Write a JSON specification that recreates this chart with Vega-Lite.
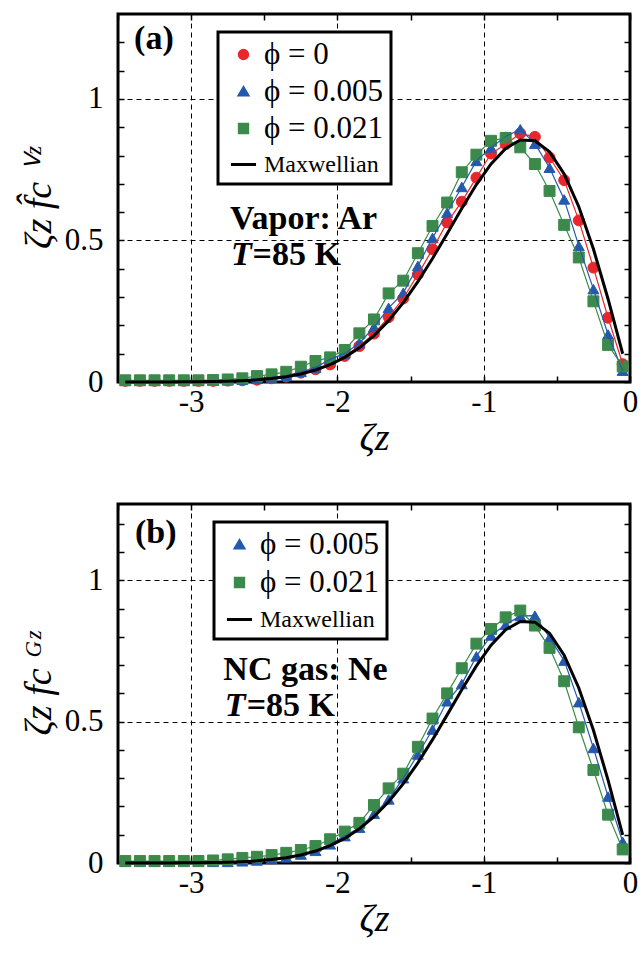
{
"$schema": "https://vega.github.io/schema/vega-lite/v6.json",
"padding": {"left": 18, "top": 11, "right": 0, "bottom": 0},
"datasets": {
"a": [
{"series":"ϕ = 0","x":-3.45,"y":0.004},{"series":"ϕ = 0","x":-3.35,"y":0.004},{"series":"ϕ = 0","x":-3.25,"y":0.004},{"series":"ϕ = 0","x":-3.15,"y":0.004},{"series":"ϕ = 0","x":-3.05,"y":0.004},{"series":"ϕ = 0","x":-2.95,"y":0.004},{"series":"ϕ = 0","x":-2.85,"y":0.004},{"series":"ϕ = 0","x":-2.75,"y":0.005},{"series":"ϕ = 0","x":-2.65,"y":0.006},{"series":"ϕ = 0","x":-2.55,"y":0.008},{"series":"ϕ = 0","x":-2.45,"y":0.013},{"series":"ϕ = 0","x":-2.35,"y":0.019},{"series":"ϕ = 0","x":-2.25,"y":0.033},{"series":"ϕ = 0","x":-2.15,"y":0.045},{"series":"ϕ = 0","x":-2.05,"y":0.062},{"series":"ϕ = 0","x":-1.95,"y":0.092},{"series":"ϕ = 0","x":-1.85,"y":0.127},{"series":"ϕ = 0","x":-1.75,"y":0.171},{"series":"ϕ = 0","x":-1.65,"y":0.229},{"series":"ϕ = 0","x":-1.55,"y":0.295},{"series":"ϕ = 0","x":-1.45,"y":0.38},{"series":"ϕ = 0","x":-1.35,"y":0.469},{"series":"ϕ = 0","x":-1.25,"y":0.564},{"series":"ϕ = 0","x":-1.15,"y":0.637},{"series":"ϕ = 0","x":-1.05,"y":0.722},{"series":"ϕ = 0","x":-0.95,"y":0.807},{"series":"ϕ = 0","x":-0.85,"y":0.84},{"series":"ϕ = 0","x":-0.75,"y":0.878},{"series":"ϕ = 0","x":-0.65,"y":0.866},{"series":"ϕ = 0","x":-0.55,"y":0.793},{"series":"ϕ = 0","x":-0.45,"y":0.713},{"series":"ϕ = 0","x":-0.35,"y":0.571},{"series":"ϕ = 0","x":-0.25,"y":0.404},{"series":"ϕ = 0","x":-0.15,"y":0.227},{"series":"ϕ = 0","x":-0.05,"y":0.063},
{"series":"ϕ = 0.005","x":-3.45,"y":0.005},{"series":"ϕ = 0.005","x":-3.35,"y":0.005},{"series":"ϕ = 0.005","x":-3.25,"y":0.005},{"series":"ϕ = 0.005","x":-3.15,"y":0.005},{"series":"ϕ = 0.005","x":-3.05,"y":0.005},{"series":"ϕ = 0.005","x":-2.95,"y":0.005},{"series":"ϕ = 0.005","x":-2.85,"y":0.005},{"series":"ϕ = 0.005","x":-2.75,"y":0.006},{"series":"ϕ = 0.005","x":-2.65,"y":0.008},{"series":"ϕ = 0.005","x":-2.55,"y":0.011},{"series":"ϕ = 0.005","x":-2.45,"y":0.016},{"series":"ϕ = 0.005","x":-2.35,"y":0.022},{"series":"ϕ = 0.005","x":-2.25,"y":0.036},{"series":"ϕ = 0.005","x":-2.15,"y":0.051},{"series":"ϕ = 0.005","x":-2.05,"y":0.08},{"series":"ϕ = 0.005","x":-1.95,"y":0.101},{"series":"ϕ = 0.005","x":-1.85,"y":0.137},{"series":"ϕ = 0.005","x":-1.75,"y":0.194},{"series":"ϕ = 0.005","x":-1.65,"y":0.262},{"series":"ϕ = 0.005","x":-1.55,"y":0.315},{"series":"ϕ = 0.005","x":-1.45,"y":0.41},{"series":"ϕ = 0.005","x":-1.35,"y":0.509},{"series":"ϕ = 0.005","x":-1.25,"y":0.598},{"series":"ϕ = 0.005","x":-1.15,"y":0.689},{"series":"ϕ = 0.005","x":-1.05,"y":0.781},{"series":"ϕ = 0.005","x":-0.95,"y":0.828},{"series":"ϕ = 0.005","x":-0.85,"y":0.867},{"series":"ϕ = 0.005","x":-0.75,"y":0.893},{"series":"ϕ = 0.005","x":-0.65,"y":0.842},{"series":"ϕ = 0.005","x":-0.55,"y":0.757},{"series":"ϕ = 0.005","x":-0.45,"y":0.645},{"series":"ϕ = 0.005","x":-0.35,"y":0.481},{"series":"ϕ = 0.005","x":-0.25,"y":0.328},{"series":"ϕ = 0.005","x":-0.15,"y":0.168},{"series":"ϕ = 0.005","x":-0.05,"y":0.04},
{"series":"ϕ = 0.021","x":-3.45,"y":0.006},{"series":"ϕ = 0.021","x":-3.35,"y":0.006},{"series":"ϕ = 0.021","x":-3.25,"y":0.006},{"series":"ϕ = 0.021","x":-3.15,"y":0.006},{"series":"ϕ = 0.021","x":-3.05,"y":0.006},{"series":"ϕ = 0.021","x":-2.95,"y":0.006},{"series":"ϕ = 0.021","x":-2.85,"y":0.007},{"series":"ϕ = 0.021","x":-2.75,"y":0.009},{"series":"ϕ = 0.021","x":-2.65,"y":0.013},{"series":"ϕ = 0.021","x":-2.55,"y":0.021},{"series":"ϕ = 0.021","x":-2.45,"y":0.027},{"series":"ϕ = 0.021","x":-2.35,"y":0.036},{"series":"ϕ = 0.021","x":-2.25,"y":0.054},{"series":"ϕ = 0.021","x":-2.15,"y":0.074},{"series":"ϕ = 0.021","x":-2.05,"y":0.087},{"series":"ϕ = 0.021","x":-1.95,"y":0.113},{"series":"ϕ = 0.021","x":-1.85,"y":0.172},{"series":"ϕ = 0.021","x":-1.75,"y":0.221},{"series":"ϕ = 0.021","x":-1.65,"y":0.313},{"series":"ϕ = 0.021","x":-1.55,"y":0.358},{"series":"ϕ = 0.021","x":-1.45,"y":0.455},{"series":"ϕ = 0.021","x":-1.35,"y":0.551},{"series":"ϕ = 0.021","x":-1.25,"y":0.634},{"series":"ϕ = 0.021","x":-1.15,"y":0.741},{"series":"ϕ = 0.021","x":-1.05,"y":0.803},{"series":"ϕ = 0.021","x":-0.95,"y":0.852},{"series":"ϕ = 0.021","x":-0.85,"y":0.862},{"series":"ϕ = 0.021","x":-0.75,"y":0.829},{"series":"ϕ = 0.021","x":-0.65,"y":0.77},{"series":"ϕ = 0.021","x":-0.55,"y":0.675},{"series":"ϕ = 0.021","x":-0.45,"y":0.555},{"series":"ϕ = 0.021","x":-0.35,"y":0.44},{"series":"ϕ = 0.021","x":-0.25,"y":0.285},{"series":"ϕ = 0.021","x":-0.15,"y":0.131},{"series":"ϕ = 0.021","x":-0.05,"y":0.055},
{"series":"Maxwellian","x":-3.45,"y":0},{"series":"Maxwellian","x":-3.35,"y":0.0001},{"series":"Maxwellian","x":-3.25,"y":0.0002},{"series":"Maxwellian","x":-3.15,"y":0.0003},{"series":"Maxwellian","x":-3.05,"y":0.0006},{"series":"Maxwellian","x":-2.95,"y":0.001},{"series":"Maxwellian","x":-2.85,"y":0.0017},{"series":"Maxwellian","x":-2.75,"y":0.0028},{"series":"Maxwellian","x":-2.65,"y":0.0047},{"series":"Maxwellian","x":-2.55,"y":0.0076},{"series":"Maxwellian","x":-2.45,"y":0.0121},{"series":"Maxwellian","x":-2.35,"y":0.0188},{"series":"Maxwellian","x":-2.25,"y":0.0285},{"series":"Maxwellian","x":-2.15,"y":0.0423},{"series":"Maxwellian","x":-2.05,"y":0.0613},{"series":"Maxwellian","x":-1.95,"y":0.087},{"series":"Maxwellian","x":-1.85,"y":0.1207},{"series":"Maxwellian","x":-1.75,"y":0.1637},{"series":"Maxwellian","x":-1.65,"y":0.2168},{"series":"Maxwellian","x":-1.55,"y":0.2805},{"series":"Maxwellian","x":-1.45,"y":0.3542},{"series":"Maxwellian","x":-1.35,"y":0.4364},{"series":"Maxwellian","x":-1.25,"y":0.524},{"series":"Maxwellian","x":-1.15,"y":0.613},{"series":"Maxwellian","x":-1.05,"y":0.6974},{"series":"Maxwellian","x":-0.95,"y":0.7706},{"series":"Maxwellian","x":-0.85,"y":0.8253},{"series":"Maxwellian","x":-0.75,"y":0.8547},{"series":"Maxwellian","x":-0.65,"y":0.852},{"series":"Maxwellian","x":-0.55,"y":0.8129},{"series":"Maxwellian","x":-0.45,"y":0.735},{"series":"Maxwellian","x":-0.35,"y":0.6193},{"series":"Maxwellian","x":-0.25,"y":0.4697},{"series":"Maxwellian","x":-0.15,"y":0.2933},{"series":"Maxwellian","x":-0.05,"y":0.0998}
],
"b": [
{"series":"ϕ = 0.005","x":-3.45,"y":0.004},{"series":"ϕ = 0.005","x":-3.35,"y":0.004},{"series":"ϕ = 0.005","x":-3.25,"y":0.004},{"series":"ϕ = 0.005","x":-3.15,"y":0.004},{"series":"ϕ = 0.005","x":-3.05,"y":0.004},{"series":"ϕ = 0.005","x":-2.95,"y":0.004},{"series":"ϕ = 0.005","x":-2.85,"y":0.004},{"series":"ϕ = 0.005","x":-2.75,"y":0.004},{"series":"ϕ = 0.005","x":-2.65,"y":0.006},{"series":"ϕ = 0.005","x":-2.55,"y":0.009},{"series":"ϕ = 0.005","x":-2.45,"y":0.014},{"series":"ϕ = 0.005","x":-2.35,"y":0.02},{"series":"ϕ = 0.005","x":-2.25,"y":0.03},{"series":"ϕ = 0.005","x":-2.15,"y":0.043},{"series":"ϕ = 0.005","x":-2.05,"y":0.066},{"series":"ϕ = 0.005","x":-1.95,"y":0.095},{"series":"ϕ = 0.005","x":-1.85,"y":0.125},{"series":"ϕ = 0.005","x":-1.75,"y":0.174},{"series":"ϕ = 0.005","x":-1.65,"y":0.225},{"series":"ϕ = 0.005","x":-1.55,"y":0.3},{"series":"ϕ = 0.005","x":-1.45,"y":0.384},{"series":"ϕ = 0.005","x":-1.35,"y":0.472},{"series":"ϕ = 0.005","x":-1.25,"y":0.572},{"series":"ϕ = 0.005","x":-1.15,"y":0.633},{"series":"ϕ = 0.005","x":-1.05,"y":0.731},{"series":"ϕ = 0.005","x":-0.95,"y":0.805},{"series":"ϕ = 0.005","x":-0.85,"y":0.843},{"series":"ϕ = 0.005","x":-0.75,"y":0.874},{"series":"ϕ = 0.005","x":-0.65,"y":0.875},{"series":"ϕ = 0.005","x":-0.55,"y":0.797},{"series":"ϕ = 0.005","x":-0.45,"y":0.716},{"series":"ϕ = 0.005","x":-0.35,"y":0.569},{"series":"ϕ = 0.005","x":-0.25,"y":0.407},{"series":"ϕ = 0.005","x":-0.15,"y":0.235},{"series":"ϕ = 0.005","x":-0.05,"y":0.075},
{"series":"ϕ = 0.021","x":-3.45,"y":0.007},{"series":"ϕ = 0.021","x":-3.35,"y":0.007},{"series":"ϕ = 0.021","x":-3.25,"y":0.007},{"series":"ϕ = 0.021","x":-3.15,"y":0.007},{"series":"ϕ = 0.021","x":-3.05,"y":0.007},{"series":"ϕ = 0.021","x":-2.95,"y":0.007},{"series":"ϕ = 0.021","x":-2.85,"y":0.009},{"series":"ϕ = 0.021","x":-2.75,"y":0.013},{"series":"ϕ = 0.021","x":-2.65,"y":0.018},{"series":"ϕ = 0.021","x":-2.55,"y":0.022},{"series":"ϕ = 0.021","x":-2.45,"y":0.028},{"series":"ϕ = 0.021","x":-2.35,"y":0.036},{"series":"ϕ = 0.021","x":-2.25,"y":0.046},{"series":"ϕ = 0.021","x":-2.15,"y":0.06},{"series":"ϕ = 0.021","x":-2.05,"y":0.084},{"series":"ϕ = 0.021","x":-1.95,"y":0.111},{"series":"ϕ = 0.021","x":-1.85,"y":0.142},{"series":"ϕ = 0.021","x":-1.75,"y":0.205},{"series":"ϕ = 0.021","x":-1.65,"y":0.264},{"series":"ϕ = 0.021","x":-1.55,"y":0.316},{"series":"ϕ = 0.021","x":-1.45,"y":0.411},{"series":"ϕ = 0.021","x":-1.35,"y":0.511},{"series":"ϕ = 0.021","x":-1.25,"y":0.6},{"series":"ϕ = 0.021","x":-1.15,"y":0.689},{"series":"ϕ = 0.021","x":-1.05,"y":0.776},{"series":"ϕ = 0.021","x":-0.95,"y":0.828},{"series":"ϕ = 0.021","x":-0.85,"y":0.869},{"series":"ϕ = 0.021","x":-0.75,"y":0.893},{"series":"ϕ = 0.021","x":-0.65,"y":0.84},{"series":"ϕ = 0.021","x":-0.55,"y":0.761},{"series":"ϕ = 0.021","x":-0.45,"y":0.643},{"series":"ϕ = 0.021","x":-0.35,"y":0.48},{"series":"ϕ = 0.021","x":-0.25,"y":0.329},{"series":"ϕ = 0.021","x":-0.15,"y":0.171},{"series":"ϕ = 0.021","x":-0.05,"y":0.048},
{"series":"Maxwellian","x":-3.45,"y":0},{"series":"Maxwellian","x":-3.35,"y":0.0001},{"series":"Maxwellian","x":-3.25,"y":0.0002},{"series":"Maxwellian","x":-3.15,"y":0.0003},{"series":"Maxwellian","x":-3.05,"y":0.0006},{"series":"Maxwellian","x":-2.95,"y":0.001},{"series":"Maxwellian","x":-2.85,"y":0.0017},{"series":"Maxwellian","x":-2.75,"y":0.0028},{"series":"Maxwellian","x":-2.65,"y":0.0047},{"series":"Maxwellian","x":-2.55,"y":0.0076},{"series":"Maxwellian","x":-2.45,"y":0.0121},{"series":"Maxwellian","x":-2.35,"y":0.0188},{"series":"Maxwellian","x":-2.25,"y":0.0285},{"series":"Maxwellian","x":-2.15,"y":0.0423},{"series":"Maxwellian","x":-2.05,"y":0.0613},{"series":"Maxwellian","x":-1.95,"y":0.087},{"series":"Maxwellian","x":-1.85,"y":0.1207},{"series":"Maxwellian","x":-1.75,"y":0.1637},{"series":"Maxwellian","x":-1.65,"y":0.2168},{"series":"Maxwellian","x":-1.55,"y":0.2805},{"series":"Maxwellian","x":-1.45,"y":0.3542},{"series":"Maxwellian","x":-1.35,"y":0.4364},{"series":"Maxwellian","x":-1.25,"y":0.524},{"series":"Maxwellian","x":-1.15,"y":0.613},{"series":"Maxwellian","x":-1.05,"y":0.6974},{"series":"Maxwellian","x":-0.95,"y":0.7706},{"series":"Maxwellian","x":-0.85,"y":0.8253},{"series":"Maxwellian","x":-0.75,"y":0.8547},{"series":"Maxwellian","x":-0.65,"y":0.852},{"series":"Maxwellian","x":-0.55,"y":0.8129},{"series":"Maxwellian","x":-0.45,"y":0.735},{"series":"Maxwellian","x":-0.35,"y":0.6193},{"series":"Maxwellian","x":-0.25,"y":0.4697},{"series":"Maxwellian","x":-0.15,"y":0.2933},{"series":"Maxwellian","x":-0.05,"y":0.0998}
]
},
"spacing": 122,
"bounds": "flush",
"resolve": {"scale": {"x": "independent", "y": "independent", "color": "independent", "shape": "independent", "stroke": "independent"}, "legend": {"color": "independent", "shape": "independent", "stroke": "independent"}},
"vconcat": [
{
"width": 512, "height": 368,
"data": {"name": "a"},
"resolve": {"axis": {"x": "independent", "y": "independent"}},
"layer": [
{"transform": [{"filter": "datum.series != 'Maxwellian'"}],
 "mark": {"type": "point", "filled": true, "size": 120, "opacity": 1, "strokeWidth": 1},
 "encoding": {
  "x": {"field": "x", "type": "quantitative", "scale": {"domain": [-3.5, 0], "nice": false, "zero": false},
        "axis": {"orient": "bottom", "values": [-3.5,-3,-2.5,-2,-1.5,-1,-0.5,0], "labelExpr": "datum.value == -3 ? '-3' : datum.value == -2 ? '-2' : datum.value == -1 ? '-1' : datum.value == 0 ? '0' : ''", "grid": true, "gridOpacity": {"condition": {"test": "datum.value == -3 || datum.value == -2 || datum.value == -1", "value": 1}, "value": 0}, "tickSize": -6, "labelPadding": 11, "title": "ζz", "titlePadding": 2}},
  "y": {"field": "y", "type": "quantitative", "scale": {"domain": [0, 1.3], "nice": false},
        "axis": {"orient": "left", "values": [0,0.1,0.2,0.3,0.4,0.5,0.6,0.7,0.8,0.9,1,1.1,1.2], "labelExpr": "datum.value == 0 ? '0' : datum.value == 0.5 ? '0.5' : datum.value == 1 ? '1' : ''", "grid": true, "gridOpacity": {"condition": {"test": "datum.value == 0.5 || datum.value == 1", "value": 1}, "value": 0}, "tickSize": -6, "labelPadding": 21, "title": "ζz f̂c ⱽᶻ", "titlePadding": 6}},
  "color": {"field": "series", "type": "nominal", "scale": {"domain": ["ϕ = 0", "ϕ = 0.005", "ϕ = 0.021", "Maxwellian"], "range": ["#e8272c", "#2459ad", "#3b8a4c", "#000000"]}, "legend": {"orient": "none", "legendX": 100, "legendY": 18, "title": null, "padding": 7, "labelFontSize": {"expr": "datum.label == 'Maxwellian' ? 24 : 31"}, "symbolSize": 70, "symbolStrokeWidth": 3, "symbolOffset": 3, "labelOffset": 5, "rowPadding": 5}},
  "stroke": {"field": "series", "type": "nominal", "scale": {"domain": ["ϕ = 0", "ϕ = 0.005", "ϕ = 0.021", "Maxwellian"], "range": ["#e8272c", "#2459ad", "#3b8a4c", "#000000"]}},
  "shape": {"field": "series", "type": "nominal", "scale": {"domain": ["ϕ = 0", "ϕ = 0.005", "ϕ = 0.021", "Maxwellian"], "range": ["circle", "triangle-up", "square", "M-3,0L3,0"]}}
 }},
{"transform": [{"filter": "datum.series != 'Maxwellian'"}],
 "mark": {"type": "line", "strokeWidth": 1.2},
 "encoding": {
  "x": {"field": "x", "type": "quantitative", "axis": {"orient": "top", "values": [-3.5,-3,-2.5,-2,-1.5,-1,-0.5,0], "labels": false, "grid": false, "tickSize": -6, "title": null}},
  "y": {"field": "y", "type": "quantitative", "axis": {"orient": "right", "values": [0,0.1,0.2,0.3,0.4,0.5,0.6,0.7,0.8,0.9,1,1.1,1.2], "labels": false, "grid": false, "tickSize": -6, "title": null}},
  "stroke": {"field": "series", "type": "nominal"}
 }},
{"transform": [{"filter": "datum.series == 'Maxwellian'"}],
 "mark": {"type": "line", "strokeWidth": 3},
 "encoding": {
  "x": {"field": "x", "type": "quantitative", "axis": null},
  "y": {"field": "y", "type": "quantitative", "axis": null},
  "stroke": {"field": "series", "type": "nominal"}
 }},
{"data": {"values": [{"label": "(a)", "x": -3.39, "y": 1.177}, {"label": "Vapor: Ar", "x": -2.734, "y": 0.54}, {"label": "=85 K", "x": -2.58, "y": 0.413}]},
 "mark": {"type": "text", "font": "Liberation Serif", "fontWeight": "bold", "fontSize": 34, "align": "left", "baseline": "alphabetic", "color": "black"},
 "encoding": {"x": {"field": "x", "type": "quantitative", "axis": null}, "y": {"field": "y", "type": "quantitative", "axis": null}, "text": {"field": "label"}}},
{"data": {"values": [{"label": "T", "x": -2.727, "y": 0.413}]},
 "mark": {"type": "text", "font": "Liberation Serif", "fontWeight": "bold", "fontStyle": "italic", "fontSize": 34, "align": "left", "baseline": "alphabetic", "color": "black"},
 "encoding": {"x": {"field": "x", "type": "quantitative", "axis": null}, "y": {"field": "y", "type": "quantitative", "axis": null}, "text": {"field": "label"}}}
]
},
{
"width": 512, "height": 359,
"data": {"name": "b"},
"resolve": {"axis": {"x": "independent", "y": "independent"}},
"layer": [
{"transform": [{"filter": "datum.series != 'Maxwellian'"}],
 "mark": {"type": "point", "filled": true, "size": 120, "opacity": 1, "strokeWidth": 1},
 "encoding": {
  "x": {"field": "x", "type": "quantitative", "scale": {"domain": [-3.5, 0], "nice": false, "zero": false},
        "axis": {"orient": "bottom", "values": [-3.5,-3,-2.5,-2,-1.5,-1,-0.5,0], "labelExpr": "datum.value == -3 ? '-3' : datum.value == -2 ? '-2' : datum.value == -1 ? '-1' : datum.value == 0 ? '0' : ''", "grid": true, "gridOpacity": {"condition": {"test": "datum.value == -3 || datum.value == -2 || datum.value == -1", "value": 1}, "value": 0}, "tickSize": -6, "labelPadding": 11, "title": "ζz", "titlePadding": 2}},
  "y": {"field": "y", "type": "quantitative", "scale": {"domain": [0, 1.27], "nice": false},
        "axis": {"orient": "left", "values": [0,0.1,0.2,0.3,0.4,0.5,0.6,0.7,0.8,0.9,1,1.1,1.2], "labelExpr": "datum.value == 0 ? '0' : datum.value == 0.5 ? '0.5' : datum.value == 1 ? '1' : ''", "grid": true, "gridOpacity": {"condition": {"test": "datum.value == 0.5 || datum.value == 1", "value": 1}, "value": 0}, "tickSize": -6, "labelPadding": 21, "title": "ζz fc ᴳᶻ", "titlePadding": 6}},
  "color": {"field": "series", "type": "nominal", "scale": {"domain": ["ϕ = 0.005", "ϕ = 0.021", "Maxwellian"], "range": ["#2459ad", "#3b8a4c", "#000000"]}, "legend": {"orient": "none", "legendX": 96, "legendY": 18, "title": null, "padding": 7, "labelFontSize": {"expr": "datum.label == 'Maxwellian' ? 24 : 31"}, "symbolSize": 70, "symbolStrokeWidth": 3, "symbolOffset": 3, "labelOffset": 5, "rowPadding": 6}},
  "stroke": {"field": "series", "type": "nominal", "scale": {"domain": ["ϕ = 0.005", "ϕ = 0.021", "Maxwellian"], "range": ["#2459ad", "#3b8a4c", "#000000"]}},
  "shape": {"field": "series", "type": "nominal", "scale": {"domain": ["ϕ = 0.005", "ϕ = 0.021", "Maxwellian"], "range": ["triangle-up", "square", "M-3,0L3,0"]}}
 }},
{"transform": [{"filter": "datum.series != 'Maxwellian'"}],
 "mark": {"type": "line", "strokeWidth": 1.2},
 "encoding": {
  "x": {"field": "x", "type": "quantitative", "axis": {"orient": "top", "values": [-3.5,-3,-2.5,-2,-1.5,-1,-0.5,0], "labels": false, "grid": false, "tickSize": -6, "title": null}},
  "y": {"field": "y", "type": "quantitative", "axis": {"orient": "right", "values": [0,0.1,0.2,0.3,0.4,0.5,0.6,0.7,0.8,0.9,1,1.1,1.2], "labels": false, "grid": false, "tickSize": -6, "title": null}},
  "stroke": {"field": "series", "type": "nominal"}
 }},
{"transform": [{"filter": "datum.series == 'Maxwellian'"}],
 "mark": {"type": "line", "strokeWidth": 3},
 "encoding": {
  "x": {"field": "x", "type": "quantitative", "axis": null},
  "y": {"field": "y", "type": "quantitative", "axis": null},
  "stroke": {"field": "series", "type": "nominal"}
 }},
{"data": {"values": [{"label": "(b)", "x": -3.384, "y": 1.131}, {"label": "NC gas: Ne", "x": -2.78, "y": 0.647}, {"label": "=85 K", "x": -2.62, "y": 0.519}]},
 "mark": {"type": "text", "font": "Liberation Serif", "fontWeight": "bold", "fontSize": 34, "align": "left", "baseline": "alphabetic", "color": "black"},
 "encoding": {"x": {"field": "x", "type": "quantitative", "axis": null}, "y": {"field": "y", "type": "quantitative", "axis": null}, "text": {"field": "label"}}},
{"data": {"values": [{"label": "T", "x": -2.77, "y": 0.519}]},
 "mark": {"type": "text", "font": "Liberation Serif", "fontWeight": "bold", "fontStyle": "italic", "fontSize": 34, "align": "left", "baseline": "alphabetic", "color": "black"},
 "encoding": {"x": {"field": "x", "type": "quantitative", "axis": null}, "y": {"field": "y", "type": "quantitative", "axis": null}, "text": {"field": "label"}}}
]
}
],
"config": {
  "font": "Liberation Serif",
  "view": {"stroke": "black", "strokeWidth": 3},
  "axis": {"domain": false, "labelFont": "Liberation Serif", "labelFontSize": 31, "labelColor": "black", "tickColor": "black", "tickWidth": 1.5, "labelFlush": false, "labelOverlap": false, "labelBound": false, "titleFont": "Liberation Serif", "titleFontWeight": "normal", "titleFontStyle": "italic", "titleColor": "black", "titleFontSize": 38, "gridColor": "black", "gridDash": [5, 4], "gridWidth": 1},
  "legend": {"fillColor": "white", "strokeColor": "black", "strokeWidth": 3, "labelFont": "Liberation Serif", "labelColor": "black", "labelLimit": 400}
}
}
